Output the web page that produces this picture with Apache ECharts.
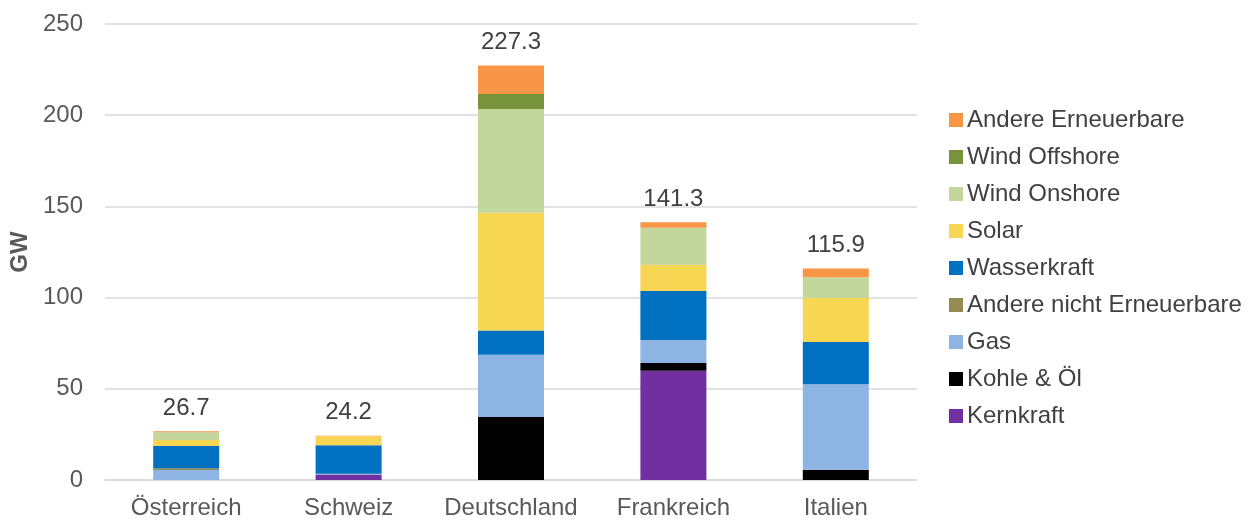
<!DOCTYPE html>
<html>
<head>
<meta charset="utf-8">
<script src="https://cdn.jsdelivr.net/npm/echarts@6/dist/echarts.min.js"></script>
<style>
  html, body { margin: 0; padding: 0; background: #fff; }
  #chart { width: 1251px; height: 520px; }
</style>
</head>
<body>
<div id="chart"></div>
<script>
// Länder
const countries = ['Österreich', 'Schweiz', 'Deutschland', 'Frankreich', 'Italien']
// installierte Leistung in GW, je Technologie
const kernkraft = [0, 3.0, 0, 59.9, 0]
const kohleOel = [0, 0, 34.5, 4.2, 5.6]
const gas = [5.5, 0.4, 34.2, 12.7, 46.9]
const andereNichtEE = [0.9, 0, 0, 0, 0]
const wasserkraft = [12.2, 15.6, 13.2, 26.8, 23.2]
const solar = [3.3, 5.0, 64.6, 14.4, 24.1]
const windOnshore = [4.3, 0, 56.9, 20.3, 11.3]
const windOffshore = [0, 0, 8.2, 0, 0]
const andereEE = [0.5, 0.2, 15.7, 3.0, 4.8]
// Summen über den Balken
const totals = ['26.7', '24.2', '227.3', '141.3', '115.9']
const yTicks = [0, 50, 100, 150, 200, 250]

const seriesDefs = [
  { name: 'Kernkraft', data: kernkraft, color: '#7030A0' },
  { name: 'Kohle & Öl', data: kohleOel, color: '#000000' },
  { name: 'Gas', data: gas, color: '#8EB4E3' },
  { name: 'Andere nicht Erneuerbare', data: andereNichtEE, color: '#948A54' },
  { name: 'Wasserkraft', data: wasserkraft, color: '#0070C0' },
  { name: 'Solar', data: solar, color: '#F7D654' },
  { name: 'Wind Onshore', data: windOnshore, color: '#C3D69B' },
  { name: 'Wind Offshore', data: windOffshore, color: '#77933C' },
  { name: 'Andere Erneuerbare', data: andereEE, color: '#F79646' },
]

const font = 'Liberation Sans, Arial, sans-serif'
const chart = echarts.init(document.getElementById('chart'))

const series = seriesDefs.map((s, i) => ({
  name: s.name,
  type: 'bar',
  stack: 'total',
  barWidth: 66,
  data: s.data,
  itemStyle: { color: s.color },
  // Summenlabel nur an der obersten Reihe
  label: i === seriesDefs.length - 1 ? {
    show: true,
    position: 'top',
    distance: 11,
    fontFamily: font,
    fontSize: 24,
    color: '#404040',
    formatter: (p) => totals[p.dataIndex],
  } : { show: false },
}))

chart.setOption({
  animation: false,
  textStyle: { fontFamily: font },
  grid: {
    left: 105,
    right: 334,
    top: 24,
    bottom: 40,
  },
  legend: {
    orient: 'vertical',
    left: 944,
    top: 103,
    icon: 'rect',
    itemWidth: 14,
    itemHeight: 14,
    itemGap: 13,
    textStyle: { fontFamily: font, fontSize: 24, color: '#404040', padding: [0, 0, 0, -1] },
    data: seriesDefs.map((s) => s.name).reverse(),
  },
  xAxis: {
    type: 'category',
    data: countries,
    axisTick: { show: false },
    axisLine: { lineStyle: { color: '#D9D9D9', width: 1.5 } },
    axisLabel: { interval: 0, fontFamily: font, fontSize: 24, color: '#595959', margin: 16 },
  },
  yAxis: {
    type: 'value',
    min: yTicks[0],
    max: yTicks[yTicks.length - 1],
    interval: 50,
    name: 'GW',
    nameLocation: 'middle',
    nameGap: 70,
    nameTextStyle: { fontFamily: font, fontSize: 24, fontWeight: 'bold', color: '#595959' },
    axisLine: { show: false },
    axisTick: { show: false },
    axisLabel: { fontFamily: font, fontSize: 24, color: '#595959', margin: 22 },
    splitLine: { lineStyle: { color: '#D9D9D9', width: 1.5 } },
  },
  series: series,
})
</script>
</body>
</html>
